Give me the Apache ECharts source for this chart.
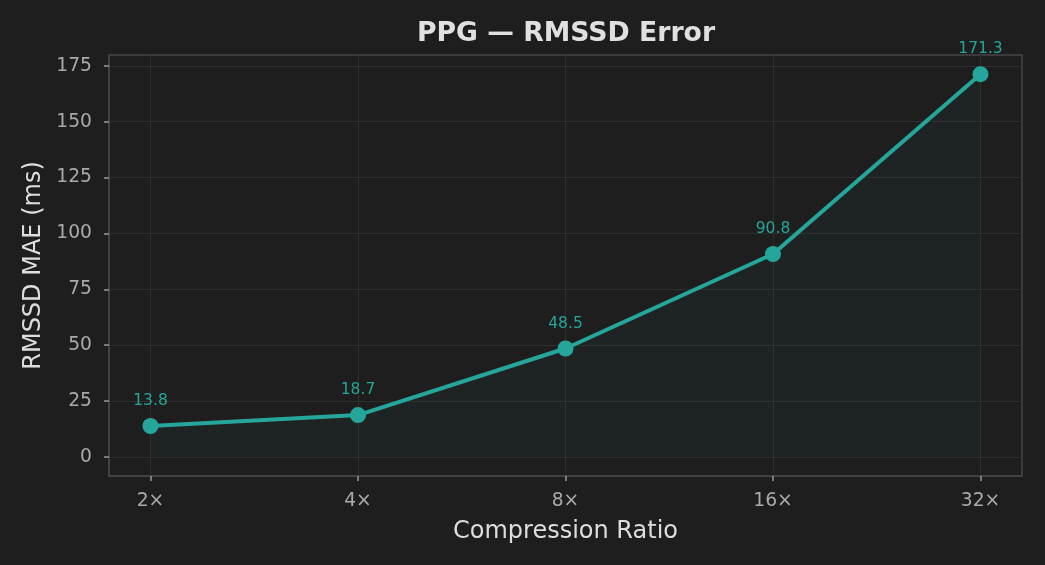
<!DOCTYPE html>
<html>
<head>
<meta charset="utf-8">
<script src="https://cdn.jsdelivr.net/npm/echarts@6/dist/echarts.min.js"></script>
<style>
  html, body { margin: 0; padding: 0; background: #1e1e1e; }
  #main { width: 1045px; height: 565px; }
</style>
</head>
<body>
<div id="main"></div>
<script>
// data
var ratios = ['2×', '4×', '8×', '16×', '32×'];
var rmssdMae = [13.8, 18.7, 48.5, 90.8, 171.3];
var yTicks = [0, 25, 50, 75, 100, 125, 150, 175];

var teal = '#26a69a';
var chart = echarts.init(document.getElementById('main'));

var points = rmssdMae.map(function (v, i) { return [i, v]; });
var xTicks = ratios.map(function (r, i) { return i; });

var option = {
    backgroundColor: '#1e1e1e',
    textStyle: { fontFamily: 'DejaVu Sans' },
    title: {
        text: 'PPG — RMSSD Error',
        left: 561,
        textAlign: 'center',
        top: 16,
        textStyle: { color: '#e0e0e0', fontSize: 26.7, fontWeight: 'bold', fontFamily: 'DejaVu Sans' }
    },
    grid: {
        left: 109, right: 23, top: 55, bottom: 89,
        show: true, borderColor: '#454545', borderWidth: 1.5, backgroundColor: '#1e1e1e'
    },
    xAxis: {
        type: 'value',
        min: -0.2,
        max: 4.2,
        name: 'Compression Ratio',
        nameLocation: 'middle',
        nameGap: 44,
        nameTextStyle: { color: '#dddddd', fontSize: 24 },
        axisLine: { show: true, onZero: false, lineStyle: { color: '#454545', width: 1.5 } },
        axisTick: { show: true, length: 5, customValues: xTicks, lineStyle: { color: '#999999', width: 1.5 } },
        axisLabel: {
            customValues: xTicks,
            color: '#aaaaaa', fontSize: 18.7, margin: 16,
            formatter: function (v) { return ratios[Math.round(v)]; }
        },
        splitLine: { show: true, lineStyle: { color: '#2e2e2e', width: 1 } }
    },
    yAxis: {
        type: 'value',
        min: -8.565,
        max: 179.865,
        name: 'RMSSD MAE (ms)',
        nameLocation: 'middle',
        nameGap: 62,
        nameTextStyle: { color: '#dddddd', fontSize: 24 },
        axisLine: { show: true, onZero: false, lineStyle: { color: '#454545', width: 1.5 } },
        axisTick: { show: true, length: 5, customValues: yTicks, lineStyle: { color: '#999999', width: 1.5 } },
        axisLabel: { customValues: yTicks, color: '#aaaaaa', fontSize: 18.7, margin: 17 },
        splitLine: { show: true, lineStyle: { color: '#2e2e2e', width: 1 } }
    },
    series: [{
        type: 'line',
        data: points,
        symbol: 'circle',
        symbolSize: 16,
        itemStyle: { color: teal },
        lineStyle: { color: teal, width: 4 },
        areaStyle: { color: 'rgba(38,166,154,0.07)' },
        label: {
            show: true,
            position: 'top',
            distance: 9,
            color: teal,
            fontSize: 15.5,
            formatter: function (p) { return p.value[1].toFixed(1); }
        }
    }]
};
chart.setOption(option);
</script>
</body>
</html>
